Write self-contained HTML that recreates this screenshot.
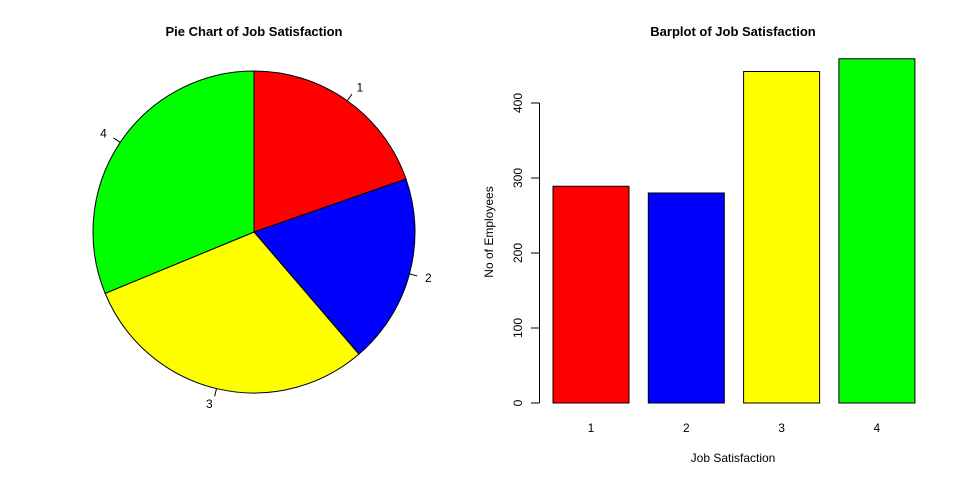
<!DOCTYPE html>
<html><head><meta charset="utf-8"><style>
html,body{margin:0;padding:0;background:#fff;}
svg{display:block;font-family:"Liberation Sans",Arial,sans-serif;}
</style></head><body>
<svg id="c" width="960" height="480" xmlns="http://www.w3.org/2000/svg">
<text x="254" y="36" text-anchor="middle" font-weight="bold" font-size="13">Pie Chart of Job Satisfaction</text>
<text x="733" y="36" text-anchor="middle" font-weight="bold" font-size="13">Barplot of Job Satisfaction</text>
<g id="pie"></g>
<g id="bars"></g>
<text x="733" y="462" text-anchor="middle" font-size="12">Job Satisfaction</text>
<text transform="translate(493,232) rotate(-90)" text-anchor="middle" font-size="12">No of Employees</text>
</svg>
<script>
const categories = ["1","2","3","4"];
const counts = [289, 280, 442, 459];
const colors = ["#ff0000","#0000ff","#ffff00","#00ff00"];
const yTicks = [0, 100, 200, 300, 400];

const NS = "http://www.w3.org/2000/svg";
function mk(tag, attrs, parent){const e=document.createElementNS(NS,tag);for(const k in attrs)e.setAttribute(k,attrs[k]);parent.appendChild(e);return e;}

// Pie
const pie = document.getElementById("pie");
const cx=254, cy=232, r=161;
const total = counts.reduce((a,b)=>a+b,0);
let ang = 90;
counts.forEach((v,i)=>{
  const sweep = v/total*360;
  const a0 = ang*Math.PI/180, a1 = (ang-sweep)*Math.PI/180;
  const x0=cx+r*Math.cos(a0), y0=cy-r*Math.sin(a0);
  const x1=cx+r*Math.cos(a1), y1=cy-r*Math.sin(a1);
  const large = sweep>180?1:0;
  const p = mk("path",{d:`M${cx},${cy} L${x0},${y0} A${r},${r} 0 ${large} 1 ${x1},${y1} Z`,fill:colors[i],stroke:"#000","stroke-width":1},pie);
  
  
  const am = (ang - sweep/2)*Math.PI/180;
  const l = mk("line",{x1:cx+r*Math.cos(am),y1:cy-r*Math.sin(am),x2:cx+r*1.05*Math.cos(am),y2:cy-r*1.05*Math.sin(am),stroke:"#000","stroke-width":1},pie);
  
  
  const tx = cx+r*1.1*Math.cos(am), ty = cy-r*1.1*Math.sin(am);
  const t = mk("text",{x:tx,y:ty+4,"text-anchor":Math.cos(am)>=0?"start":"end","font-size":12},pie);
  t.textContent = categories[i];
  
  
  ang -= sweep;
});

// Bars
const bars = document.getElementById("bars");
const y0px=403, pxPer=0.75;
const yScale = v => y0px - v*pxPer;
const xLeft = i => 553 + i*95.3;
const bw = 76;
counts.forEach((v,i)=>{
  const b = mk("rect",{x:xLeft(i),y:yScale(v),width:bw,height:v*pxPer,fill:colors[i],stroke:"#000","stroke-width":1},bars);
  
  
  const t = mk("text",{x:xLeft(i)+bw/2,y:432,"text-anchor":"middle","font-size":12},bars);
  t.textContent = categories[i];
  
  
});
const ax = mk("line",{x1:539.5,x2:539.5,y1:yScale(yTicks[0]),y2:yScale(yTicks[yTicks.length-1]),stroke:"#000","stroke-width":1},bars);


yTicks.forEach(v=>{
  const y = yScale(v);
  const tk = mk("line",{x1:531,x2:539.5,y1:y,y2:y,stroke:"#000","stroke-width":1},bars);
  
  
  const t = mk("text",{transform:`translate(522,${y}) rotate(-90)`,"text-anchor":"middle","font-size":12},bars);
  t.textContent = v;
  
  
});
</script>
</body></html>
